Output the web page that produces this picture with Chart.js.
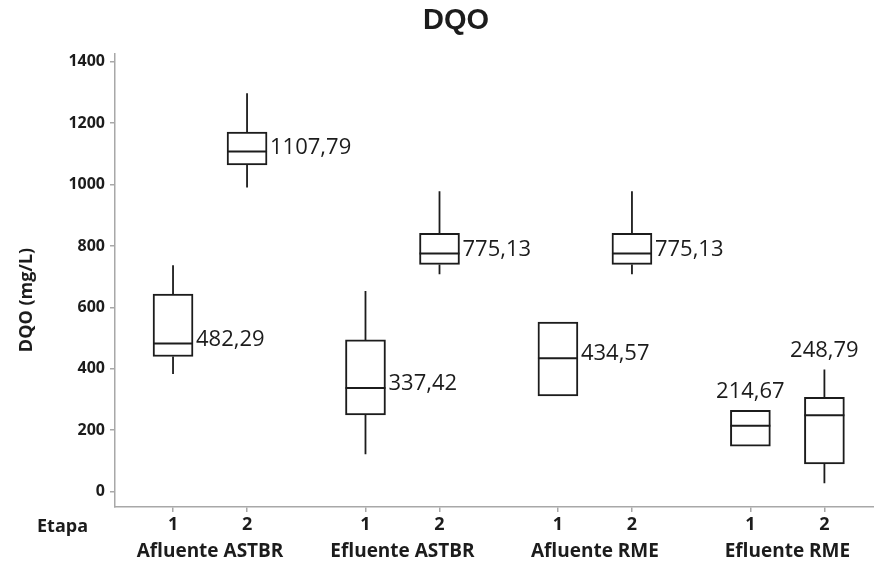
<!DOCTYPE html>
<html>
<head>
<meta charset="utf-8">
<script src="https://cdn.jsdelivr.net/npm/chart.js@4.4.1/dist/chart.umd.min.js"></script>
<style>
  html, body { margin: 0; padding: 0; background: #ffffff; }
  #wrap { width: 874px; height: 569px; position: relative; }
</style>
</head>
<body>
<div id="wrap"><canvas id="c"></canvas></div>
<script>
// DQO per sampling point and stage (box = Q1..Q3, line = median, whiskers = range)
const groups = ['Afluente ASTBR', 'Efluente ASTBR', 'Afluente RME', 'Efluente RME'];
const etapas = ['1', '2'];
const medians     = [482.29, 1107.79, 337.42, 775.13, 434.57, 775.13, 214.67, 248.79];
const q1          = [440, 1064, 250, 740, 312, 740, 148, 90];
const q3          = [643, 1171, 494, 841, 552, 841, 265, 307];
const whiskerLow  = [383, 990, 122, 708, null, 708, null, 27];
const whiskerHigh = [737, 1297, 653, 978, null, 978, null, 398];
const yTicks = [0, 200, 400, 600, 800, 1000, 1200, 1400];

const GROUP_STEP = 2.6;          // distance between groups, in stage units
const BOX_HALF = 0.27;           // half box width, in stage units
const pos = i => Math.floor(i / 2) * GROUP_STEP + (i % 2);
const positions = medians.map((_, i) => pos(i));
const fmt = v => v.toFixed(2).replace('.', ',');
const labelAbove = medians.map((_, i) => Math.floor(i / 2) === 3);

const INK = '#1c1c1c';
const AXIS = '#a8a8a8';
const FONT = "'Open Sans', 'DejaVu Sans', sans-serif";

// whisker segments: low..Q1 and Q3..high, separated by gaps
const whiskerPts = [];
medians.forEach((_, i) => {
  if (whiskerLow[i] == null) return;
  const p = positions[i];
  whiskerPts.push({x: p, y: whiskerLow[i]}, {x: p, y: q1[i]}, {x: p, y: null});
  whiskerPts.push({x: p, y: q3[i]}, {x: p, y: whiskerHigh[i]}, {x: p, y: null});
});
// median segments across each box
const medianPts = [];
medians.forEach((m, i) => {
  const p = positions[i];
  medianPts.push({x: p - BOX_HALF, y: m}, {x: p + BOX_HALF, y: m}, {x: p, y: null});
});

const decorations = {
  id: 'decorations',
  afterDraw(chart) {
    const {ctx, scales: {x, y}} = chart;
    ctx.save();
    ctx.fillStyle = INK;
    // title
    ctx.font = "bold 29px 'Liberation Sans', Arial, sans-serif";
    ctx.textAlign = 'center';
    ctx.textBaseline = 'alphabetic';
    ctx.fillText('DQO', 456, 29);
    // stage row caption
    ctx.font = "bold 18px " + FONT;
    ctx.textAlign = 'left';
    ctx.fillText('Etapa', 37, 532);
    // vertical axis title
    ctx.save();
    ctx.translate(27, 300);
    ctx.rotate(-Math.PI / 2);
    ctx.font = "bold 18px " + FONT;
    ctx.textAlign = 'center';
    ctx.textBaseline = 'middle';
    ctx.fillText('DQO (mg/L)', 0, 0);
    ctx.restore();
    // median value labels
    ctx.font = "22px " + FONT;
    medians.forEach((m, i) => {
      const px = x.getPixelForValue(positions[i]);
      const halfPx = x.getPixelForValue(positions[i] + BOX_HALF) - px;
      if (labelAbove[i]) {
        const top = whiskerHigh[i] != null ? whiskerHigh[i] : q3[i];
        ctx.textAlign = 'center';
        ctx.textBaseline = 'alphabetic';
        ctx.fillText(fmt(m), px, y.getPixelForValue(top) - 12);
      } else {
        ctx.textAlign = 'left';
        ctx.textBaseline = 'middle';
        ctx.fillText(fmt(m), px + halfPx + 3, y.getPixelForValue(m) - 4);
      }
    });
    ctx.restore();
  }
};

new Chart(document.getElementById('c'), {
  type: 'bar',
  data: {
    datasets: [
      {
        type: 'bar',
        data: medians.map((_, i) => ({x: positions[i], y: [q1[i], q3[i]]})),
        backgroundColor: '#ffffff',
        borderColor: INK,
        borderWidth: 2,
        borderSkipped: false,
        barThickness: 40,
        grouped: false,
        order: 2
      },
      {
        type: 'line',
        data: whiskerPts,
        borderColor: INK,
        borderWidth: 1.8,
        pointRadius: 0,
        spanGaps: false,
        fill: false,
        order: 1
      },
      {
        type: 'line',
        data: medianPts,
        borderColor: INK,
        borderWidth: 2,
        pointRadius: 0,
        spanGaps: false,
        fill: false,
        order: 0
      }
    ]
  },
  options: {
    responsive: true,
    maintainAspectRatio: false,
    animation: false,
    layout: {padding: {top: 54, right: 0, left: 0, bottom: 0}},
    plugins: {legend: {display: false}, tooltip: {enabled: false}, title: {display: false}},
    scales: {
      x: {
        type: 'linear',
        position: 'bottom',
        weight: 0,
        min: -0.784,
        max: 9.47,
        offset: false,
        afterBuildTicks: s => { s.ticks = positions.map(v => ({value: v})); },
        afterFit: s => { s.height = 30; },
        grid: {display: true, drawOnChartArea: false, drawTicks: true, tickLength: 5, color: AXIS, lineWidth: 1.5, offset: false},
        border: {display: true, color: AXIS, width: 1.5},
        ticks: {
          callback: (v, i) => etapas[i % 2],
          font: {family: FONT, size: 18, weight: 'bold'},
          color: INK, padding: 2, maxRotation: 0, autoSkip: false
        }
      },
      x2: {
        type: 'linear',
        position: 'bottom',
        weight: 1,
        min: -0.784,
        max: 9.47,
        offset: false,
        afterBuildTicks: s => { s.ticks = groups.map((_, k) => ({value: k * GROUP_STEP + 0.5})); },
        afterFit: s => { s.height = 32; },
        grid: {display: false, drawTicks: false},
        border: {display: false},
        ticks: {
          callback: (v, i) => groups[i],
          font: {family: FONT, size: 19, weight: 'bold'},
          color: INK, padding: 3, maxRotation: 0, autoSkip: false
        }
      },
      y: {
        type: 'linear',
        min: -50,
        max: 1425,
        afterBuildTicks: s => { s.ticks = yTicks.map(v => ({value: v})); },
        afterFit: s => { s.width = 115; },
        grid: {display: true, drawOnChartArea: false, drawTicks: true, tickLength: 5, color: AXIS, lineWidth: 1.5},
        border: {display: true, color: AXIS, width: 1.5},
        ticks: {
          callback: v => String(v),
          font: {family: FONT, size: 16, weight: 'bold'}, color: INK, padding: 5
        }
      }
    }
  },
  plugins: [decorations]
});
</script>
</body>
</html>
